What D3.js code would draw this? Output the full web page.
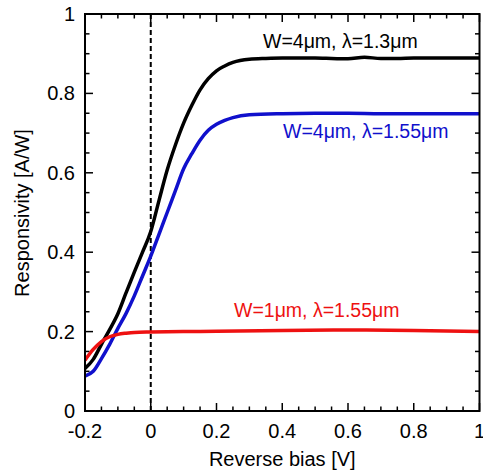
<!DOCTYPE html>
<html>
<head>
<meta charset="utf-8">
<script src="https://cdn.jsdelivr.net/npm/d3@7.9.0/dist/d3.min.js"></script>
<style>
  html, body { margin: 0; padding: 0; background: #fff; }
  svg { display: block; font-family: 'Liberation Sans', Arial, Helvetica, sans-serif; }
</style>
</head>
<body>
<svg id="chart" width="483" height="471"></svg>
<script>
// Bias values (V) where responsivity was read
const biasBlack = [-0.2, -0.175, -0.15, -0.125, -0.1, -0.075, -0.05, -0.025, 0, 0.025, 0.05, 0.075, 0.1, 0.125, 0.15, 0.175, 0.2, 0.225, 0.25, 0.3, 0.35, 0.4, 0.45, 0.5, 0.55, 0.6, 0.65, 0.7, 0.75, 0.8, 0.9, 1.0];
const respBlack = [0.107, 0.13, 0.168, 0.205, 0.245, 0.298, 0.35, 0.4, 0.452, 0.53, 0.607, 0.67, 0.725, 0.77, 0.809, 0.837, 0.857, 0.869, 0.878, 0.886, 0.888, 0.889, 0.889, 0.889, 0.888, 0.887, 0.891, 0.888, 0.888, 0.889, 0.889, 0.889];

const biasBlue = [-0.2, -0.175, -0.15, -0.125, -0.1, -0.075, -0.05, -0.025, 0, 0.025, 0.05, 0.075, 0.1, 0.125, 0.15, 0.175, 0.2, 0.225, 0.25, 0.3, 0.4, 0.5, 0.6, 0.7, 0.8, 0.9, 1.0];
const respBlue = [0.088, 0.1, 0.132, 0.168, 0.208, 0.246, 0.29, 0.34, 0.39, 0.445, 0.5, 0.555, 0.61, 0.648, 0.682, 0.707, 0.722, 0.732, 0.739, 0.746, 0.749, 0.75, 0.75, 0.749, 0.749, 0.749, 0.749];

const biasRed = [-0.2, -0.175, -0.15, -0.125, -0.1, -0.075, -0.05, 0, 0.1, 0.2, 0.4, 0.6, 0.8, 1.0];
const respRed = [0.128, 0.155, 0.175, 0.187, 0.193, 0.196, 0.198, 0.199, 0.2, 0.201, 0.203, 0.204, 0.203, 0.2];

const xTicks = [-0.2, 0, 0.2, 0.4, 0.6, 0.8, 1];
const yTicks = [0, 0.2, 0.4, 0.6, 0.8, 1];
const xLabel = 'Reverse bias [V]';
const yLabel = 'Responsivity [A/W]';

const seriesNames = ['W=4\u03bcm, \u03bb=1.3\u03bcm', 'W=4\u03bcm, \u03bb=1.55\u03bcm', 'W=1\u03bcm, \u03bb=1.55\u03bcm'];
const seriesColors = ['#000000', '#1010cc', '#ee1111'];

const series = [
    { name: seriesNames[0], color: seriesColors[0], xs: biasBlack, ys: respBlack, lx: 263, ly: 48 },
    { name: seriesNames[1], color: seriesColors[1], xs: biasBlue, ys: respBlue, lx: 283, ly: 138 },
    { name: seriesNames[2], color: seriesColors[2], xs: biasRed, ys: respRed, lx: 234, ly: 317 }
];

const svg = d3.select('#chart');
const plotL = 85, plotR = 479.5, plotT = 14, plotB = 411;

const x = d3.scaleLinear().domain([-0.2, 1]).range([plotL, plotR]);
const y = d3.scaleLinear().domain([0, 1]).range([plotB, plotT]);

// clip for the curves
svg.append('clipPath').attr('id', 'plotclip')
    .append('rect')
    .attr('x', plotL).attr('y', plotT)
    .attr('width', plotR - plotL).attr('height', plotB - plotT);

// minor + major ticks, pointing inward on all four sides
const minorX = d3.range(-0.2, 1.0001, 0.05);
const minorY = d3.range(0, 1.0001, 0.05);

function isMajor(v) { return Math.abs(Math.round(v * 5) - v * 5) < 1e-6; }

const ticks = svg.append('g').attr('stroke', '#000').attr('stroke-width', 1.5);
minorX.forEach(v => {
    const len = isMajor(v) ? 8 : 4.5;
    ticks.append('line').attr('x1', x(v)).attr('x2', x(v)).attr('y1', plotB).attr('y2', plotB - len);
    ticks.append('line').attr('x1', x(v)).attr('x2', x(v)).attr('y1', plotT).attr('y2', plotT + len);
});
minorY.forEach(v => {
    const len = isMajor(v) ? 8 : 4.5;
    ticks.append('line').attr('x1', plotL).attr('x2', plotL + len).attr('y1', y(v)).attr('y2', y(v));
    ticks.append('line').attr('x1', plotR).attr('x2', plotR - len).attr('y1', y(v)).attr('y2', y(v));
});

// dashed zero-bias line
svg.append('line')
    .attr('x1', x(0)).attr('x2', x(0))
    .attr('y1', plotT).attr('y2', plotB)
    .attr('stroke', '#000').attr('stroke-width', 2)
    .attr('stroke-dasharray', '5,3');

// curves
const line = d3.line()
    .x(d => x(d[0]))
    .y(d => y(d[1]))
    .curve(d3.curveMonotoneX);

series.forEach(s => {
    svg.append('path')
        .datum(d3.zip(s.xs, s.ys))
        .attr('clip-path', 'url(#plotclip)')
        .attr('fill', 'none')
        .attr('stroke', s.color)
        .attr('stroke-width', 3.5)
        .attr('stroke-linejoin', 'round')
        .attr('d', line);
    svg.append('text')
        .attr('x', s.lx).attr('y', s.ly)
        .attr('fill', s.color)
        .attr('font-size', 19.5)
        .text(s.name);
});

// frame
svg.append('rect')
    .attr('x', plotL).attr('y', plotT)
    .attr('width', plotR - plotL).attr('height', plotB - plotT)
    .attr('fill', 'none').attr('stroke', '#000').attr('stroke-width', 2);

// tick labels (plain hyphen minus, like the original)
const fmt = v => (v === 0 || v === 1) ? String(v) : v.toFixed(1);
svg.append('g').selectAll('text')
    .data(xTicks).enter().append('text')
    .attr('x', d => x(d)).attr('y', 438)
    .attr('text-anchor', 'middle')
    .attr('font-size', 20)
    .text(fmt);
svg.append('g').selectAll('text')
    .data(yTicks).enter().append('text')
    .attr('x', 75).attr('y', d => y(d) + 7)
    .attr('text-anchor', 'end')
    .attr('font-size', 20)
    .text(fmt);

// axis titles
svg.append('text')
    .attr('x', (plotL + plotR) / 2).attr('y', 466)
    .attr('text-anchor', 'middle')
    .attr('font-size', 20)
    .text(xLabel);
svg.append('text')
    .attr('transform', 'translate(29,213) rotate(-90)')
    .attr('text-anchor', 'middle')
    .attr('font-size', 20)
    .text(yLabel);
</script>
</body>
</html>
